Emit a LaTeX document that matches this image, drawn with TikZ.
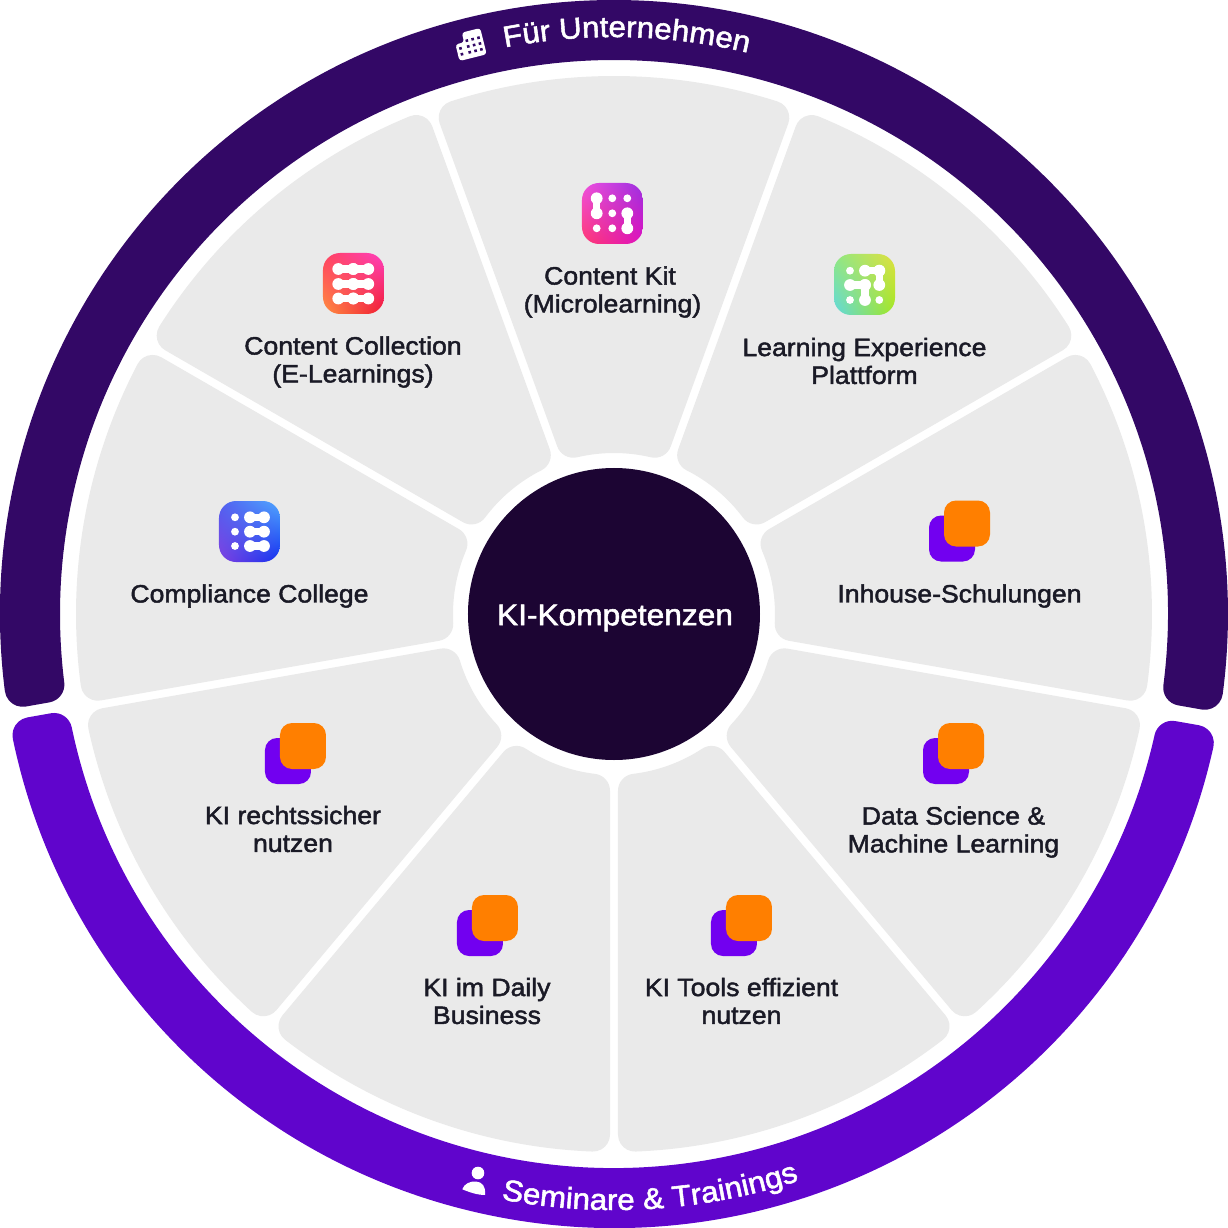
\documentclass[tikz,border=0pt]{standalone}
\usepackage{fontspec}
\setmainfont[FakeBold=1.8,FakeStretch=1.06]{Liberation Sans}
\usetikzlibrary{calc,decorations.text,shadings}
\definecolor{ringtop}{HTML}{330866}
\definecolor{ringbot}{HTML}{6005CC}
\definecolor{wedge}{HTML}{EAEAEA}
\definecolor{hub}{HTML}{1C0533}
\definecolor{ink}{HTML}{1A1A26}
\definecolor{ipurple}{HTML}{7200F0}
\definecolor{iorange}{HTML}{FF7F00}
\definecolor{kUL}{HTML}{F050E0}\definecolor{kUR}{HTML}{9A30E0}\definecolor{kLL}{HTML}{FF3A70}\definecolor{kLR}{HTML}{E010C0}
\definecolor{cUL}{HTML}{FF4060}\definecolor{cUR}{HTML}{FF40C0}\definecolor{cLL}{HTML}{FF9040}\definecolor{cLR}{HTML}{F01830}
\definecolor{xUL}{HTML}{90E880}\definecolor{xUR}{HTML}{E0E040}\definecolor{xLL}{HTML}{60D8E0}\definecolor{xLR}{HTML}{A0E820}
\definecolor{mUL}{HTML}{5060F0}\definecolor{mUR}{HTML}{50A8FF}\definecolor{mLL}{HTML}{8040E0}\definecolor{mLR}{HTML}{1030F0}
\tikzset{
  lbl/.style={text=ink,align=center,font=\fontsize{25.2}{28}\selectfont,inner sep=0pt},
  dotw/.style={fill=white,draw=none},
  neck/.style={draw=white,line width=7.5bp,line cap=round},
}
% sector: a1,a2,Ro,Ri,h1,h2,r,colour
\newcommand\sector[8]{%
  \pgfmathsetmacro\oA{asin((#5+#7)/(#3-#7))}%
  \pgfmathsetmacro\oB{asin((#6+#7)/(#3-#7))}%
  \pgfmathsetmacro\iA{asin((#5+#7)/(#4+#7))}%
  \pgfmathsetmacro\iB{asin((#6+#7)/(#4+#7))}%
  \pgfmathsetmacro\D{#3-#7}%
  \pgfmathsetmacro\d{#4+#7}%
  \fill[#8] ({#1-\oA}:#3)
    arc[start angle={#1-\oA},end angle={#2+\oB},radius=#3]
    arc[start angle={#2+\oB},end angle={#2-90},radius=#7]
    -- ($({#2+\iB}:\d)+({#2-90}:#7)$)
    arc[start angle={#2-90},end angle={#2+\iB-180},radius=#7]
    arc[start angle={#2+\iB},end angle={#1-\iA},radius=#4]
    arc[start angle={#1-\iA+180},end angle={#1+90},radius=#7]
    -- ($({#1-\oA}:\D)+({#1+90}:#7)$)
    arc[start angle={#1+90},end angle={#1-\oA},radius=#7]
    -- cycle;
}
% image pixel to picture coordinate
\newcommand\px[2]{({#1-614},{614-(#2)})}
\newcommand\iconbase[3]{% cx cy prefix
  \begin{scope}
    \clip[rounded corners=17bp] \px{#1-30.5}{#2-30.5} rectangle \px{#1+30.5}{#2+30.5};
    \shade[upper left=#3UL,upper right=#3UR,lower left=#3LL,lower right=#3LR] \px{#1-30.5}{#2-30.5} rectangle \px{#1+30.5}{#2+30.5};
  \end{scope}}
\newcommand\sdot[2]{\fill[dotw] \px{#1}{#2} circle[radius=3.9];}
\newcommand\lnk[4]{\draw[neck] \px{#1}{#2} -- \px{#3}{#4};
  \fill[dotw] \px{#1}{#2} circle[radius=5.9] \px{#3}{#4} circle[radius=5.9];}
\newcommand\duo[2]{% orange left, top
  \fill[ipurple,rounded corners=12bp] \px{#1-15}{#2+15} rectangle \px{#1+31}{#2+61};
  \fill[iorange,rounded corners=12bp] \px{#1}{#2} rectangle \px{#1+46}{#2+46};}
\begin{document}
\begin{tikzpicture}[x=1bp,y=1bp]
\useasboundingbox (-614,-614) rectangle (614,614);
\fill[white] (-614,-614) rectangle (614,614);
% rings
\sector{190}{-10}{614}{554}{11}{8}{18}{ringtop}
\sector{-10}{-170}{614}{554}{8}{0}{18}{ringbot}
% wedges
\foreach \t in {90,50,10,-30,-70,-110,-150,-190,-230}{
  \sector{\t+20}{\t-20}{538}{161}{4}{4}{17}{wedge}
}
% hub
\node[circle,fill=hub,minimum size=292bp,inner sep=0pt] (hubn) at (0,0) {};
\node[text=white,inner sep=0pt,font=\fontsize{30}{32}\selectfont] (hubt) at \px{615}{618} {KI-Kompetenzen};
% labels
\node[lbl] (l1) at \px{612.5}{292} {Content Kit\hspace*{5bp}\\(Microlearning)};
\node[lbl] (l2) at \px{353}{362} {Content Collection\\(E-Learnings)};
\node[lbl] (l3) at \px{864.5}{361} {Learning Experience\\Plattform};
\node[lbl] (l4) at \px{249.5}{596} {Compliance College};
\node[lbl] (l5) at \px{959.5}{596} {Inhouse-Schulungen};
\node[lbl] (l6) at \px{953.5}{832} {Data Science \&\\Machine Learning};
\node[lbl] (l7) at \px{293}{829} {KI rechtssicher\\nutzen};
\node[lbl] (l8) at \px{487}{1001} {KI im Daily\\Business};
\node[lbl] (l9) at \px{741.5}{1001} {KI Tools effizient\\nutzen};
% duo icons
\duo{944}{500.5}
\duo{938}{723}
\duo{280}{723}
\duo{472}{895}
\duo{726}{895}
% Content Kit icon
\iconbase{612.5}{213.5}{k}
\lnk{596.7}{198.3}{596.7}{213.3}
\lnk{627.3}{213.3}{627.3}{228.3}
\sdot{612.3}{198.3}\sdot{627.3}{198.3}\sdot{612.3}{213.3}\sdot{596.7}{228.3}\sdot{612.3}{228.3}
% Content Collection icon
\iconbase{353.5}{283.5}{c}
\foreach \y in {269,284,298.5}{\lnk{338.3}{\y}{353.3}{\y}\lnk{353.3}{\y}{368.3}{\y}}
% LXP icon
\iconbase{864.5}{284.5}{x}
\sdot{850}{270.7}\sdot{850}{300}\sdot{879.3}{300}
\lnk{865}{270.7}{879.3}{270.7}\lnk{879.3}{270.7}{879.3}{285}
\lnk{850}{285}{865}{285}\lnk{865}{285}{865}{300}
% Compliance icon
\iconbase{249.5}{531.5}{m}
\foreach \y in {517.3,531.7,546}{\sdot{235}{\y}\lnk{250}{\y}{264}{\y}}
% curved titles
\path[decorate,decoration={text along path,text align={left},text={|\fontsize{29.6}{32}\selectfont\color{white}|Für Unternehmen}}]
  (100.9:577) arc[start angle=100.9,end angle=65,radius=577];
\path[decorate,decoration={text along path,text align={left},text={|\fontsize{29.7}{32}\selectfont\color{white}|Seminare {\&} Trainings}}]
  (259.1:596) arc[start angle=259.1,end angle=300,radius=596];
% building icon
\begin{scope}[shift={(-144,569)},rotate=14]
  \fill[white,rounded corners=3bp] (-14,-13) -- (14,-13) -- (14,14) -- (-5,14) -- (-5,4) -- (-14,4) -- cycle;
  \foreach \xx/\yy in {-10/-1,-10/-7,-2/-7,4/-7,10/-7,-2/-1,4/-1,10/-1,-2/5,4/5,10/5}{
     \fill[ringtop] (\xx-1.3,\yy-1.3) rectangle (\xx+1.3,\yy+1.3);}
\end{scope}
% person icon
\fill[white] \px{478}{1173} circle[radius=6.3];
\fill[white] \px{462.3}{1189.3} .. controls \px{464}{1184} and \px{470}{1181} .. \px{476}{1181.5}
  .. controls \px{482}{1182} and \px{486}{1186} .. \px{485}{1195}
  .. controls \px{477}{1195} and \px{469}{1192} .. \px{462.3}{1189.3} -- cycle;
\end{tikzpicture}
\end{document}
